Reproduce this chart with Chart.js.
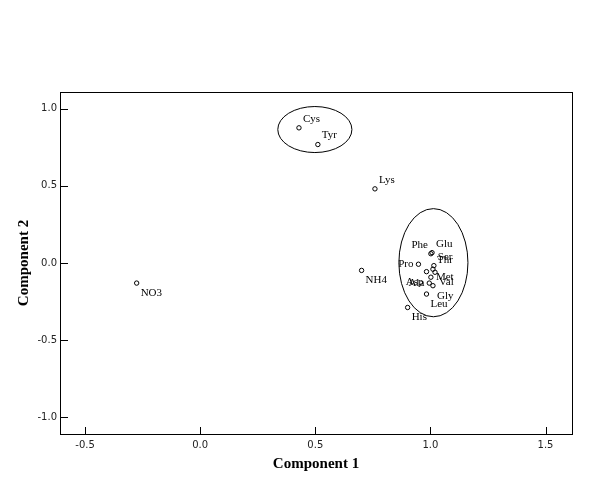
<!DOCTYPE html>
<html lang="en">
<head>
    <meta charset="UTF-8">
    <title>Component Plot</title>
    <script src="https://cdn.jsdelivr.net/npm/chart.js"></script>
    <style>
        body { margin: 0; padding: 0; background: #fff; }
        .wrap { width: 591px; height: 484px; }
    </style>
</head>
<body>
    <div class="wrap"><canvas id="chart" width="591" height="484"></canvas></div>
    <script>
        // Component loadings
        const names = ['Cys', 'Tyr', 'Lys', 'NO3', 'NH4', 'Phe', 'Glu', 'Ser', 'Thr', 'Pro', 'Met', 'Val', 'Ala', 'Asp', 'Gly', 'Leu', 'His'];
        const comp1 = [0.429, 0.511, 0.759, -0.276, 0.701, 1.002, 1.007, 1.015, 1.011, 0.948, 1.002, 1.020, 0.995, 0.983, 1.011, 0.983, 0.901];
        const comp2 = [0.875, 0.767, 0.480, -0.130, -0.048, 0.060, 0.067, -0.017, -0.040, -0.008, -0.092, -0.060, -0.130, -0.056, -0.147, -0.201, -0.288];
        // where each label sits relative to its point
        const labelSide = ['ne', 'ne', 'ne', 'se', 'se', 'nw', 'ne', 'ne', 'ne', 'w', 'e', 'se', 'w', 'sw', 'se', 'se', 'se'];

        const xTicks = [-0.5, 0.0, 0.5, 1.0, 1.5];
        const yTicks = [-1.0, -0.5, 0.0, 0.5, 1.0];

        // ellipses drawn round the groups: [centre x, centre y, radius x, radius y]
        const groups = [
            [0.498, 0.864, 0.161, 0.149],
            [1.013, 0.002, 0.150, 0.350]
        ];

        const points = comp1.map((x, i) => ({ x: x, y: comp2[i] }));

        const extras = {
            id: 'extras',
            afterDraw(chart) {
                const ctx = chart.ctx;
                const a = chart.chartArea;
                const xs = chart.scales.x, ys = chart.scales.y;
                ctx.save();
                ctx.strokeStyle = '#000';
                ctx.lineWidth = 1;
                // frame
                ctx.strokeRect(Math.round(a.left) + 0.5, Math.round(a.top) + 0.5,
                    Math.round(a.right - a.left), Math.round(a.bottom - a.top));
                // inward ticks
                ctx.beginPath();
                xTicks.forEach(v => {
                    const px = Math.round(xs.getPixelForValue(v)) + 0.5;
                    ctx.moveTo(px, a.bottom);
                    ctx.lineTo(px, a.bottom - 7);
                });
                yTicks.forEach(v => {
                    const py = Math.round(ys.getPixelForValue(v)) + 0.5;
                    ctx.moveTo(a.left, py);
                    ctx.lineTo(a.left + 8, py);
                });
                ctx.stroke();
                // group ellipses
                groups.forEach(g => {
                    const cx = xs.getPixelForValue(g[0]);
                    const cy = ys.getPixelForValue(g[1]);
                    const rx = xs.getPixelForValue(g[0] + g[2]) - cx;
                    const ry = cy - ys.getPixelForValue(g[1] + g[3]);
                    ctx.beginPath();
                    ctx.ellipse(cx, cy, rx, ry, 0, 0, Math.PI * 2);
                    ctx.stroke();
                });
                // point labels
                ctx.fillStyle = '#000';
                ctx.font = '11px "Liberation Serif", serif';
                ctx.textBaseline = 'middle';
                const meta = chart.getDatasetMeta(0);
                meta.data.forEach((el, i) => {
                    const side = labelSide[i];
                    let dx = 4, dy = 0;
                    ctx.textAlign = 'left';
                    if (side.includes('w')) { ctx.textAlign = 'right'; dx = -3; }
                    if (side === 'e') dx = 5;
                    if (side === 'w') dx = -5;
                    if (side.includes('n')) dy = -9;
                    if (side.includes('s')) dy = 10;
                    ctx.fillText(names[i], el.x + dx, el.y + dy);
                });
                // axis titles
                ctx.font = 'bold 15px "Liberation Serif", serif';
                ctx.textAlign = 'center';
                ctx.fillText('Component 1', (a.left + a.right) / 2, 464);
                ctx.translate(24, (a.top + a.bottom) / 2);
                ctx.rotate(-Math.PI / 2);
                ctx.fillText('Component 2', 0, 0);
                ctx.restore();
            }
        };

        new Chart(document.getElementById('chart'), {
            type: 'scatter',
            data: {
                datasets: [{
                    data: points,
                    pointStyle: 'circle',
                    pointRadius: 2.2,
                    pointHoverRadius: 2.2,
                    borderWidth: 1,
                    borderColor: '#000',
                    backgroundColor: 'rgba(0,0,0,0)'
                }]
            },
            options: {
                responsive: false,
                animation: false,
                layout: { padding: { top: 92, right: 19, left: 0, bottom: 0 } },
                plugins: { legend: { display: false }, tooltip: { enabled: false } },
                scales: {
                    x: {
                        type: 'linear',
                        min: -0.609,
                        max: 1.615,
                        grid: { display: false, drawTicks: false },
                        border: { display: false },
                        afterBuildTicks: s => { s.ticks = xTicks.map(v => ({ value: v })); },
                        afterFit: s => { s.height = 50; },
                        ticks: {
                            padding: 5,
                            color: '#222',
                            font: { family: 'DejaVu Sans', size: 10 },
                            callback: v => v.toFixed(1)
                        }
                    },
                    y: {
                        type: 'linear',
                        min: -1.107,
                        max: 1.107,
                        grid: { display: false, drawTicks: false },
                        border: { display: false },
                        afterBuildTicks: s => { s.ticks = yTicks.map(v => ({ value: v })); },
                        afterFit: s => { s.width = 60; },
                        ticks: {
                            padding: 3,
                            color: '#222',
                            font: { family: 'DejaVu Sans', size: 10 },
                            callback: v => v.toFixed(1)
                        }
                    }
                }
            },
            plugins: [extras]
        });
    </script>
</body>
</html>
